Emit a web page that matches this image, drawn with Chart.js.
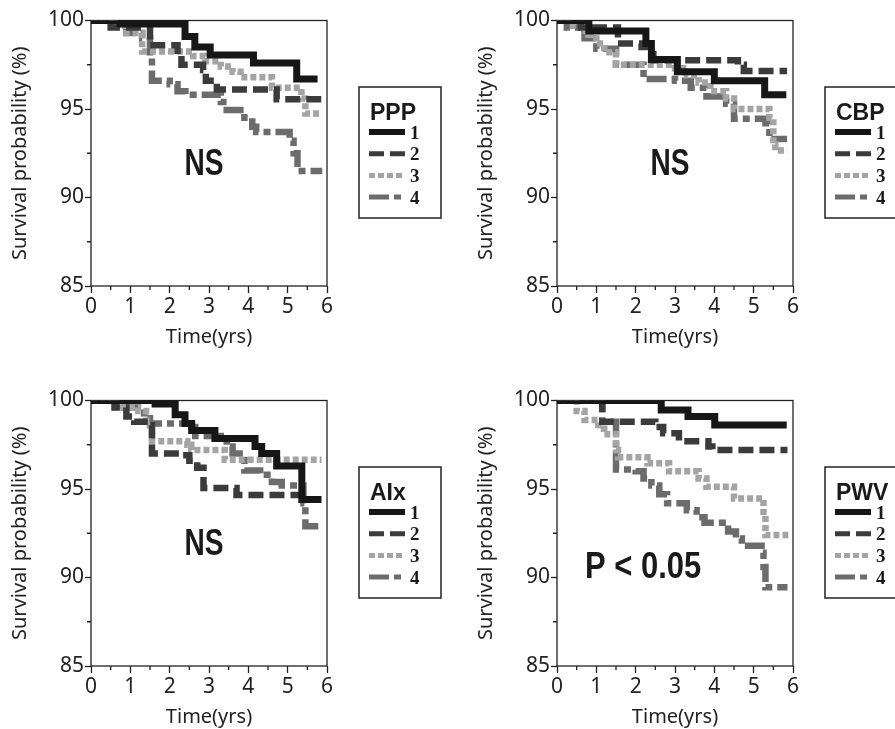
<!DOCTYPE html>
<html>
<head>
<meta charset="utf-8">
<script src="https://cdn.jsdelivr.net/npm/chart.js@4.4.0/dist/chart.umd.min.js"></script>
<style>
  html, body { margin: 0; padding: 0; background: #fff; }
  body { width: 895px; height: 729px; position: relative; overflow: hidden; }
  canvas { position: absolute; }
</style>
</head>
<body>
<canvas id="c1" width="465" height="360" style="left:0;top:0"></canvas>
<canvas id="c2" width="429" height="360" style="left:466px;top:0"></canvas>
<canvas id="c3" width="465" height="360" style="left:0;top:380px"></canvas>
<canvas id="c4" width="429" height="360" style="left:466px;top:380px"></canvas>
<script>
// ---- data: [time (yrs), survival (%)] at each step of the KM curves ----
const groupLabels = ['1', '2', '3', '4'];
const panelTitles = ['PPP', 'CBP', 'AIx', 'PWV'];
const panelNotes  = ['NS', 'NS', 'NS', 'P < 0.05'];

const xTicks = [0, 1, 2, 3, 4, 5, 6];
const xMinor = [0.5, 1.5, 2.5, 3.5, 4.5, 5.5];
const yTicks = [85, 90, 95, 100];
const yMinor = [87.5, 92.5, 97.5];

const ppp1 = [[0,100],[0.74,99.8],[2.39,99.1],[2.64,98.5],[3.03,98.05],[4.13,97.6],[5.23,96.7],[5.76,96.7]];
const ppp2 = [[0,100],[0.5,99.6],[1.5,98.6],[2.2,98.0],[2.3,97.5],[2.85,97.2],[2.92,96.6],[3.2,96.1],[4.72,95.55],[5.86,95.55]];
const ppp3 = [[0,100],[0.6,99.7],[0.9,99.3],[1.3,98.25],[2.6,98.0],[2.9,97.7],[3.3,97.4],[3.6,97.1],[3.8,96.8],[4.6,96.2],[5.35,95.6],[5.45,94.75],[5.86,94.75]];
const ppp4 = [[0,100],[0.5,99.7],[0.9,99.3],[1.3,99.0],[1.5,98.0],[1.55,96.6],[2.0,96.4],[2.2,96.0],[2.4,95.8],[3.3,95.4],[3.45,94.95],[3.9,94.5],[4.1,94.0],[4.2,93.7],[5.05,93.2],[5.15,92.5],[5.25,91.5],[5.88,91.5]];

const cbp1 = [[0,100],[0.81,99.4],[2.26,98.7],[2.4,97.8],[3.06,97.1],[4.0,96.6],[5.28,95.8],[5.83,95.8]];
const cbp2 = [[0,100],[0.6,99.6],[1.55,98.7],[2.15,98.5],[2.3,98.1],[2.45,97.75],[4.6,97.5],[4.75,97.15],[5.85,97.15]];
const cbp3 = [[0,100],[0.3,99.7],[0.6,99.4],[0.8,99.2],[1.0,98.7],[1.2,98.2],[1.5,97.5],[3.0,97.3],[3.3,96.9],[3.6,96.5],[3.9,96.0],[4.3,95.6],[4.5,95.0],[5.4,94.5],[5.5,93.0],[5.55,92.65],[5.85,92.65]];
const cbp4 = [[0,100],[0.25,99.6],[0.7,99.0],[1.0,98.4],[1.5,97.5],[2.2,96.7],[3.0,96.6],[3.4,96.2],[3.8,95.7],[4.3,95.3],[4.5,94.45],[5.3,94.2],[5.4,93.3],[5.85,93.3]];

const aix1 = [[0,100],[1.63,99.8],[2.14,99.2],[2.39,98.7],[2.56,98.3],[3.15,97.85],[4.17,97.4],[4.34,97.0],[4.72,96.3],[5.36,94.4],[5.86,94.4]];
const aix2 = [[0,100],[0.6,99.6],[0.9,99.1],[1.1,98.8],[1.5,98.6],[1.55,97.0],[2.3,96.9],[2.5,96.6],[2.7,96.2],[2.86,95.05],[3.7,94.66],[5.5,94.66]];
const aix3 = [[0,100],[0.6,99.6],[1.2,99.4],[1.4,98.9],[1.5,98.3],[1.55,97.7],[2.45,97.5],[2.55,97.2],[3.4,96.65],[5.86,96.65]];
const aix4 = [[0,100],[0.65,99.6],[1.35,99.0],[1.5,98.7],[2.55,98.5],[2.65,98.0],[3.3,97.9],[3.45,97.4],[3.6,97.0],[3.9,96.05],[4.3,95.8],[4.6,95.4],[4.85,95.2],[5.4,94.2],[5.45,92.9],[5.86,92.9]];

const pwv1 = [[0,100],[2.65,99.46],[3.33,99.1],[4.01,98.62],[5.84,98.62]];
const pwv2 = [[0,100],[1.15,98.8],[2.5,98.5],[2.7,98.15],[3.1,97.7],[3.85,97.4],[3.95,97.2],[5.86,97.2]];
const pwv3 = [[0,100],[0.5,99.4],[0.7,98.9],[1.05,98.4],[1.2,98.1],[1.5,97.2],[1.55,96.8],[2.3,96.45],[2.85,96.0],[3.6,95.6],[3.8,95.13],[4.5,94.47],[5.25,93.5],[5.3,92.4],[5.88,92.4]];
const pwv4 = [[0,100],[1.15,98.8],[1.5,96.1],[2.0,96.0],[2.2,95.6],[2.4,95.2],[2.6,94.7],[2.8,94.2],[3.3,93.8],[3.55,93.4],[3.75,93.1],[4.35,92.6],[4.55,92.2],[4.7,91.8],[5.2,91.4],[5.25,90.6],[5.3,89.45],[5.86,89.45]];

// ---- line styles per group ----
const lineColors   = ['#161616', '#3b3b3b', '#a4a4a4', '#6c6c6c'];
const lineDashes   = [[], [15, 6], [6, 3], [20, 5, 7, 5]];
const lineWidths   = [7, 6.5, 6.5, 6.5];
const legendWidths = [6, 5, 5, 5];

const TXT = '#222';
const SANS = '"Noto Sans", "DejaVu Sans", sans-serif';

/** frame, minor ticks, note text and legend box */
const panelDecor = {
  id: 'panelDecor',
  beforeDatasetsDraw(chart) {
    const { ctx, chartArea: a, scales: { x, y } } = chart;
    ctx.save();
    ctx.strokeStyle = TXT;
    ctx.lineWidth = 1.3;
    ctx.strokeRect(a.left, a.top, a.right - a.left, a.bottom - a.top);
    ctx.beginPath();
    xMinor.forEach(v => { const p = x.getPixelForValue(v); ctx.moveTo(p, a.bottom); ctx.lineTo(p, a.bottom + 4); });
    yMinor.forEach(v => { const p = y.getPixelForValue(v); ctx.moveTo(a.left, p); ctx.lineTo(a.left - 4, p); });
    ctx.stroke();
    ctx.restore();
  },
  afterDraw(chart, args, o) {
    const { ctx } = chart;
    ctx.save();
    // note (NS / P < 0.05), bold and horizontally condensed
    ctx.fillStyle = '#1a1a1a';
    ctx.font = o.noteFont;
    ctx.textAlign = o.noteAlign;
    ctx.textBaseline = 'alphabetic';
    ctx.save();
    ctx.translate(o.noteX, o.noteY);
    ctx.scale(o.noteSquash, 1);
    ctx.fillText(o.note, 0, 0);
    ctx.restore();

    // legend box
    const bx = 359, by = 87, bw = 82, bh = 131;
    ctx.strokeStyle = TXT;
    ctx.lineWidth = 1.5;
    ctx.strokeRect(bx, by, bw, bh);
    ctx.textAlign = 'left';
    ctx.font = 'bold 23px "Liberation Sans", Arial, sans-serif';
    ctx.fillText(o.title, bx + 11, by + 33);
    chart.data.datasets.forEach((ds, i) => {
      const ry = by + 45 + i * 21.7;
      ctx.beginPath();
      ctx.setLineDash(ds.borderDash);
      ctx.lineWidth = legendWidths[i];
      ctx.strokeStyle = ds.borderColor;
      ctx.moveTo(bx + 10, ry);
      ctx.lineTo(bx + (i === 3 ? 42 : 46), ry);
      ctx.stroke();
      ctx.setLineDash([]);
      ctx.fillStyle = '#1a1a1a';
      ctx.font = 'bold 19px "Liberation Serif", "DejaVu Serif", serif';
      ctx.fillText(ds.label, bx + 51, ry + 6.5);
    });
    ctx.restore();
  }
};

function makePanel(id, series, idx) {
  const canvas = document.getElementById(id);
  const W = canvas.width;
  const isP = panelNotes[idx] !== 'NS';
  new Chart(canvas, {
    type: 'line',
    data: {
      datasets: series.map((s, i) => ({
        label: groupLabels[i],
        data: s.map(([t, v]) => ({ x: t, y: v })),
        borderColor: lineColors[i],
        borderDash: lineDashes[i],
        borderWidth: lineWidths[i],
        stepped: true,
        pointRadius: 0,
        fill: false,
      })),
    },
    options: {
      responsive: false,
      animation: false,
      layout: { padding: { left: 8.5, top: 20.5, right: W - 327, bottom: 11 } },
      plugins: {
        legend: { display: false },
        tooltip: { enabled: false },
        panelDecor: {
          title: panelTitles[idx],
          note: panelNotes[idx],
          noteFont: 'bold 36px "Liberation Sans", Arial, sans-serif',
          noteSquash: isP ? 0.86 : 0.78,
          noteAlign: isP ? 'left' : 'center',
          noteX: isP ? 119 : 204,
          noteY: isP ? 198 : 175,
        },
      },
      scales: {
        x: {
          type: 'linear', min: 0, max: 6,
          afterBuildTicks: s => { s.ticks = xTicks.map(v => ({ value: v })); },
          afterFit: s => { s.height = 63; },
          border: { display: false },
          grid: { drawOnChartArea: false, tickLength: 7, tickWidth: 1.3, tickColor: TXT },
          ticks: { font: { family: SANS, size: 21, lineHeight: 1 }, color: TXT, padding: 4, maxRotation: 0, autoSkip: false },
          title: { display: true, text: 'Time(yrs)', font: { family: SANS, size: 20 }, color: TXT, padding: 0 },
        },
        y: {
          type: 'linear', min: 85, max: 100,
          afterBuildTicks: s => { s.ticks = yTicks.map(v => ({ value: v })); },
          afterFit: s => { s.width = 82.5; },
          border: { display: false },
          grid: { drawOnChartArea: false, tickLength: 6, tickWidth: 1.3, tickColor: TXT },
          ticks: { font: { family: SANS, size: 21, lineHeight: 1 }, color: TXT, padding: 1 },
          title: { display: true, text: 'Survival probability (%)', font: { family: SANS, size: 20 }, color: TXT, padding: 0 },
        },
      },
    },
    plugins: [panelDecor],
  });
}

makePanel('c1', [ppp1, ppp2, ppp3, ppp4], 0);
makePanel('c2', [cbp1, cbp2, cbp3, cbp4], 1);
makePanel('c3', [aix1, aix2, aix3, aix4], 2);
makePanel('c4', [pwv1, pwv2, pwv3, pwv4], 3);
</script>
</body>
</html>
